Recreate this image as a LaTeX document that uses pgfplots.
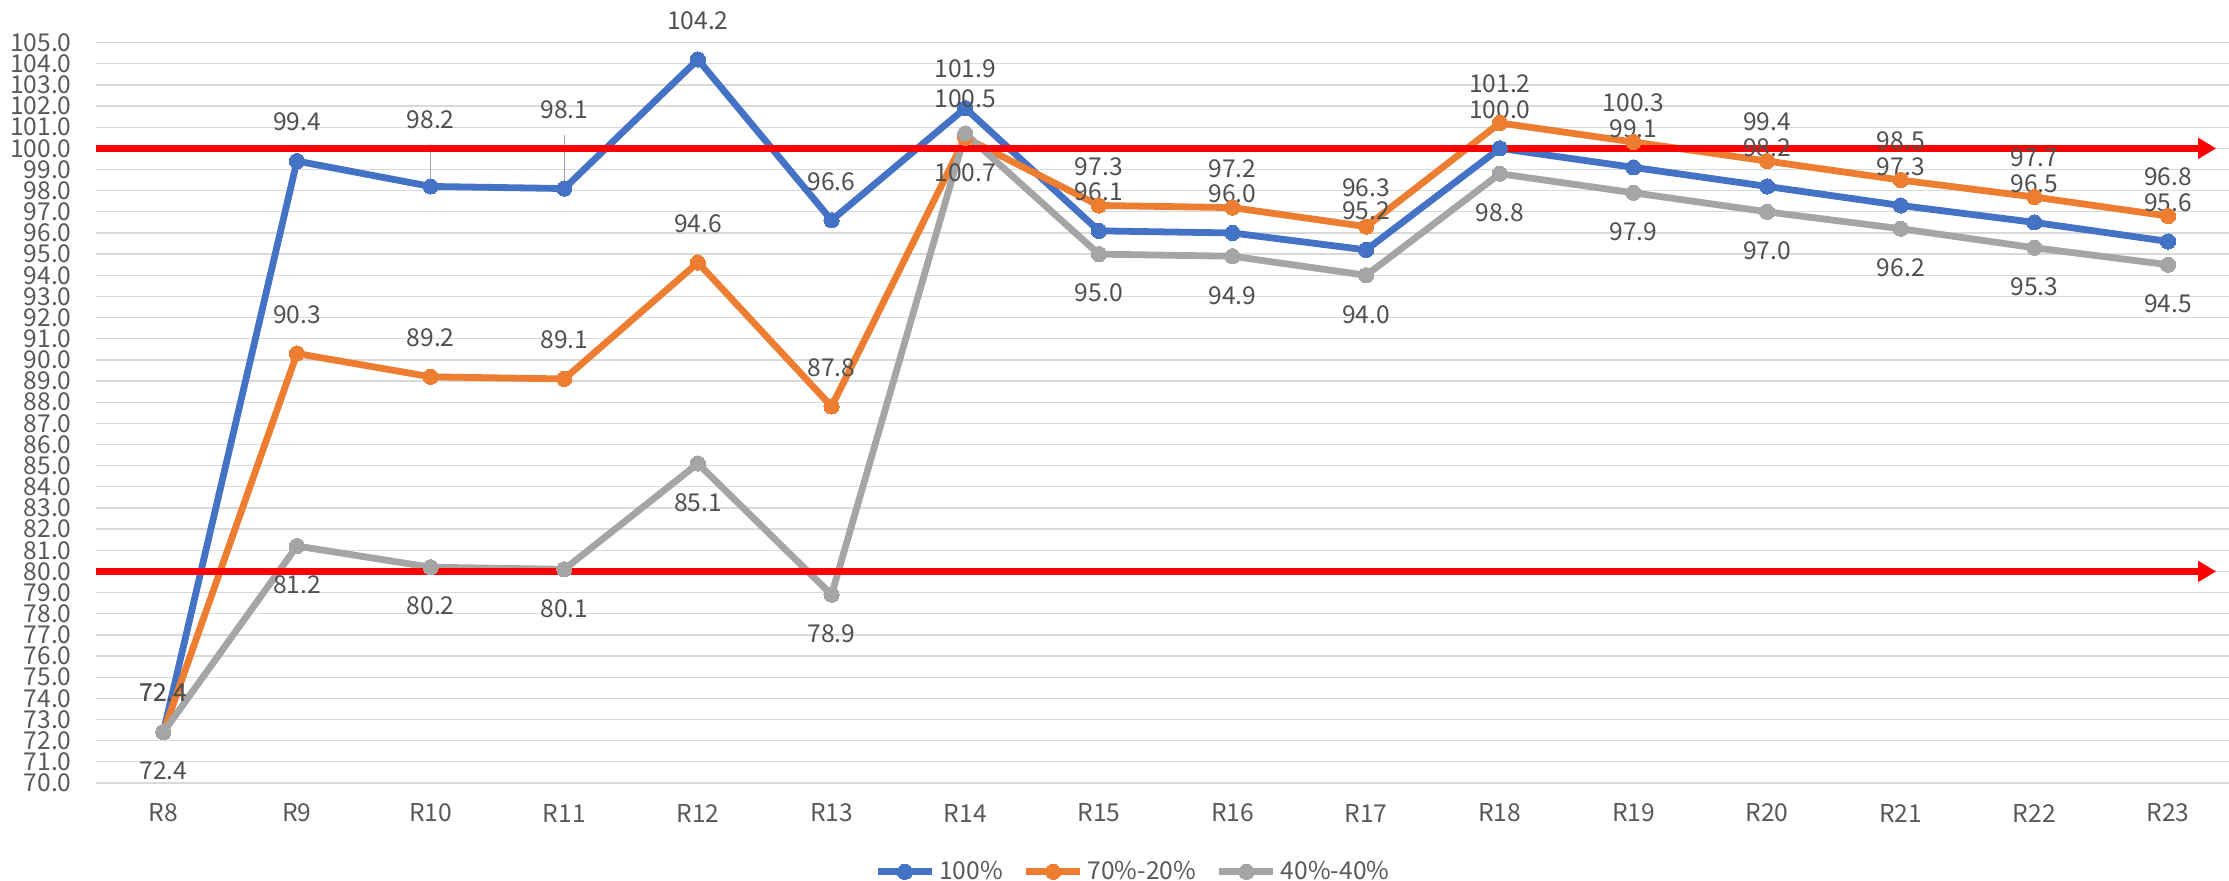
\documentclass[border=0pt]{standalone}
\usepackage{fontspec}
\setmainfont{Noto Sans CJK JP}
\usepackage{pgfplots}
\usepackage{pgfplotstable}
\pgfplotsset{compat=1.18}
\usetikzlibrary{arrows.meta}
\definecolor{cBlue}{HTML}{4472C4}
\definecolor{cOrange}{HTML}{ED7D31}
\definecolor{cGrey}{HTML}{A5A5A5}
\definecolor{cGrid}{HTML}{D9D9D9}
\definecolor{cTick}{HTML}{595959}
\definecolor{cLabel}{HTML}{505050}
\definecolor{cLeader}{HTML}{A6A6A6}
\newcommand\chartfont{\fontsize{12.3}{14}\selectfont}

\pgfplotstableread{
x y dy
0 72.4 19.5
1 99.4 19.5
2 98.2 33.5
3 98.1 39.5
4 104.2 19.5
5 96.6 19.5
6 101.9 19.5
7 96.1 19.5
8 96.0 19.5
9 95.2 19.5
10 100.0 19.5
11 99.1 19.5
12 98.2 19.5
13 97.3 19.5
14 96.5 19.5
15 95.6 19.5
}\tblA

\pgfplotstableread{
x y
0 72.4
1 90.3
2 89.2
3 89.1
4 94.6
5 87.8
6 100.5
7 97.3
8 97.2
9 96.3
10 101.2
11 100.3
12 99.4
13 98.5
14 97.7
15 96.8
}\tblB

\pgfplotstableread{
x y
0 72.4
1 81.2
2 80.2
3 80.1
4 85.1
5 78.9
6 100.7
7 95.0
8 94.9
9 94.0
10 98.8
11 97.9
12 97.0
13 96.2
14 95.3
15 94.5
}\tblC

\pgfplotsset{/pgf/number format/assume math mode=true}

\begin{document}
\begin{tikzpicture}
\begin{axis}[
  width=1066.25pt, height=370.2pt, scale only axis,
  xmin=-0.5, xmax=15.456, ymin=70, ymax=105,
  clip=false,
  axis line style={draw=none},
  major tick length=0pt,
  xtick={0,...,15},
  xticklabels={R8,R9,R10,R11,R12,R13,R14,R15,R16,R17,R18,R19,R20,R21,R22,R23},
  ytick={70,71,...,105},
  ymajorgrids,
  grid style={cGrid, line width=0.65pt},
  x tick label style={font=\chartfont, text=cTick, anchor=center, yshift=-15pt},
  y tick label style={font=\chartfont, text=cTick, anchor=east, inner sep=0pt, xshift=-12.25pt,
    /pgf/number format/.cd, fixed, fixed zerofill, precision=1},
  legend style={draw=none, fill=none, font=\chartfont, text=cTick,
    at={(0.486,-0.12)}, anchor=center, legend columns=3,
    nodes={inner sep=1pt},
    /tikz/every odd column/.append style={column sep=1pt},
    /tikz/every even column/.append style={column sep=9pt}},
  legend image code/.code={\draw[mark repeat=2,mark phase=2,#1] plot coordinates {(0pt,0pt) (13.5pt,0pt) (27pt,0pt)};},
  every axis plot/.append style={line width=3.4pt, line join=round, mark=*, mark size=3.8pt},
  nodes near coords={\pgfmathprintnumber[fixed,fixed zerofill,precision=1]{\pgfplotspointmeta}},
  every node near coord/.append style={font=\chartfont, text=cLabel, anchor=center, inner sep=0pt},
]
\addplot[forget plot, cLeader, line width=0.7pt, mark=none, nodes near coords={}] coordinates {(2,98.2) (2,100.2)};
\addplot[forget plot, cLeader, line width=0.7pt, mark=none, nodes near coords={}] coordinates {(3,98.1) (3,100.65)};

\addplot[cBlue, mark options={fill=cBlue, draw=cBlue, line width=0pt},
  visualization depends on={\thisrow{dy}\as\labdy},
  every node near coord/.append style={yshift=\labdy pt}] table[x=x,y=y] {\tblA};
\addlegendentry{100\%}
\addplot[cOrange, mark options={fill=cOrange, draw=cOrange, line width=0pt},
  every node near coord/.append style={yshift=19.5pt}] table[x=x,y=y] {\tblB};
\addlegendentry{70\%-20\%}
\addplot[cGrey, mark options={fill=cGrey, draw=cGrey, line width=0pt},
  every node near coord/.append style={yshift=-19.5pt}] table[x=x,y=y] {\tblC};
\addlegendentry{40\%-40\%}

\addplot[forget plot, red, line width=3.2pt, mark=none, nodes near coords={}, -{Triangle[length=9pt,width=10pt]}] coordinates {(-0.5,100) (15.36,100)};
\addplot[forget plot, red, line width=3.2pt, mark=none, nodes near coords={}, -{Triangle[length=9pt,width=10pt]}] coordinates {(-0.5,80) (15.36,80)};
\end{axis}
\pgfresetboundingbox
\path (-48.25pt,-49pt) rectangle (1066.25pt,391.5pt);
\end{tikzpicture}
\end{document}
